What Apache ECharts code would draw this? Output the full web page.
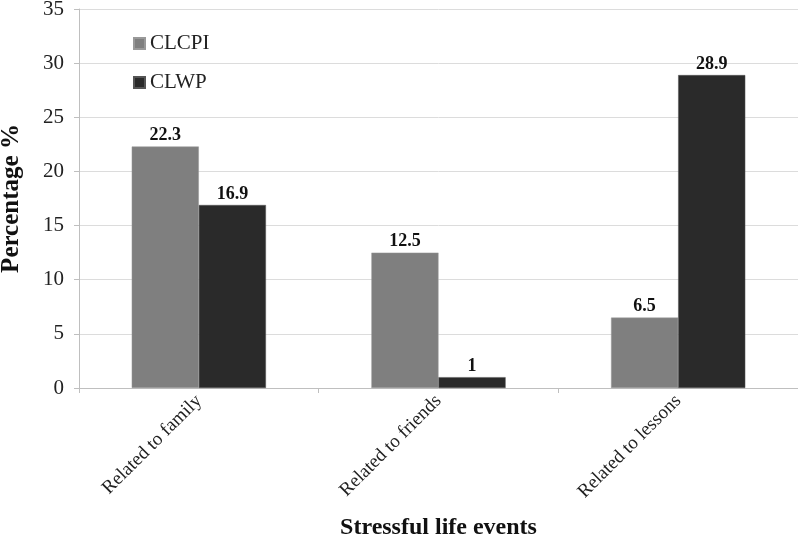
<!DOCTYPE html>
<html>
<head>
<meta charset="utf-8">
<script src="https://cdn.jsdelivr.net/npm/echarts@6/dist/echarts.min.js"></script>
<style>
  html, body { margin: 0; padding: 0; background: #fff; }
  #main { width: 798px; height: 534px; }
</style>
</head>
<body>
<div id="main"></div>
<script>
var categories = ['Related to family', 'Related to friends', 'Related to lessons'];
var clcpi = [22.3, 12.5, 6.5];
var clwp = [16.9, 1, 28.9];

var serif = '"Liberation Serif", "Times New Roman", serif';
var myChart = echarts.init(document.getElementById('main'));

option = {
    animation: false,
    backgroundColor: '#fff',
    textStyle: { fontFamily: serif },
    legend: {
        orient: 'vertical',
        left: 128,
        top: 28,
        itemWidth: 11,
        itemHeight: 11,
        itemGap: 18,
        icon: 'rect',
        textStyle: { fontFamily: serif, fontSize: 21, color: '#222' },
        data: ['CLCPI', 'CLWP']
    },
    grid: {
        left: 79,
        right: 0,
        top: 9,
        bottom: 146,
        containLabel: false,
        outerBoundsMode: 'none'
    },
    xAxis: {
        type: 'category',
        data: categories,
        name: 'Stressful life events',
        nameLocation: 'middle',
        nameGap: 128,
        nameMoveOverlap: false,
        nameTextStyle: { fontFamily: serif, fontSize: 24, fontWeight: 'bold', color: '#111' },
        axisLine: { lineStyle: { color: '#bfbfbf' } },
        axisTick: { show: true, length: 5, lineStyle: { color: '#bfbfbf' } },
        axisLabel: { rotate: 45, fontFamily: serif, fontSize: 19, color: '#222', margin: 10 }
    },
    yAxis: {
        type: 'value',
        min: 0,
        max: 35,
        interval: 5,
        name: 'Percentage %',
        nameLocation: 'middle',
        nameGap: 55,
        nameMoveOverlap: false,
        nameTextStyle: { fontFamily: serif, fontSize: 25, fontWeight: 'bold', color: '#111' },
        axisLine: { show: true, lineStyle: { color: '#bfbfbf' } },
        axisTick: { show: true, length: 5, lineStyle: { color: '#bfbfbf' } },
        axisLabel: { fontFamily: serif, fontSize: 21, color: '#222', margin: 15 },
        splitLine: { show: true, lineStyle: { color: '#dcdcdc' } }
    },
    series: [
        {
            name: 'CLCPI',
            type: 'bar',
            data: clcpi,
            barGap: '0%',
            barCategoryGap: '44%',
            itemStyle: { color: '#7f7f7f', borderColor: '#999', borderWidth: 0.5 },
            label: { show: true, position: 'top', distance: 2, fontFamily: serif, fontSize: 18, fontWeight: 'bold', color: '#111' }
        },
        {
            name: 'CLWP',
            type: 'bar',
            data: clwp,
            itemStyle: { color: '#2a2a2a', borderColor: '#555', borderWidth: 0.5 },
            label: { show: true, position: 'top', distance: 2, fontFamily: serif, fontSize: 18, fontWeight: 'bold', color: '#111' }
        }
    ]
};
myChart.setOption(option);
</script>
</body>
</html>
